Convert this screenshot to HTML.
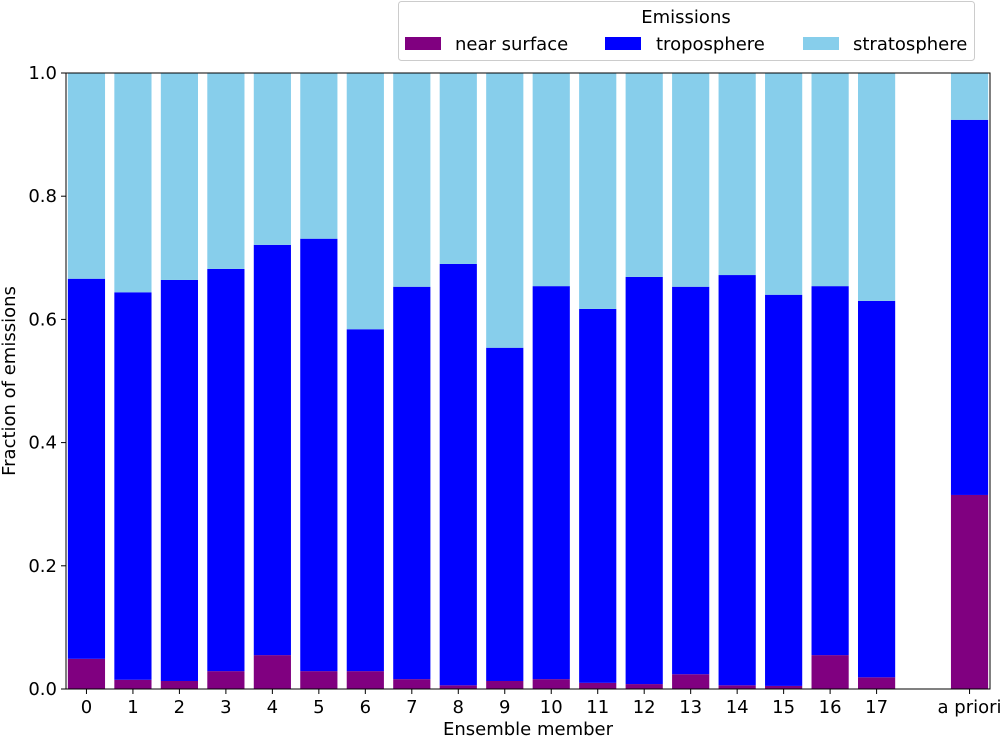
<!DOCTYPE html>
<html><head><meta charset="utf-8"><style>
body{margin:0;background:#fff;}
svg text{font-family:"DejaVu Sans","Liberation Sans",sans-serif;font-size:18px;fill:#000;}
</style></head><body>
<svg id="chart" width="1000" height="736" xmlns="http://www.w3.org/2000/svg">
<g id="bars"></g>
<g id="axes"></g>
<g>
<rect x="398.5" y="1.5" width="576" height="59" rx="3" fill="#fff" stroke="#ccc"/>
<text x="686" y="23" text-anchor="middle">Emissions</text>
<rect x="405" y="37" width="36" height="13" fill="#800080"/>
<text x="455" y="50">near surface</text>
<rect x="605" y="37" width="36" height="13" fill="#0000ff"/>
<text x="656" y="50">troposphere</text>
<rect x="803" y="37" width="36" height="13" fill="#87ceeb"/>
<text x="853" y="50">stratosphere</text>
</g>
</svg>
<script>
const categories=["0","1","2","3","4","5","6","7","8","9","10","11","12","13","14","15","16","17","a priori"];
const positions=[0,1,2,3,4,5,6,7,8,9,10,11,12,13,14,15,16,17,19];
const nearSurface=[0.049,0.015,0.013,0.029,0.055,0.029,0.029,0.016,0.006,0.013,0.016,0.010,0.008,0.024,0.006,0.005,0.055,0.019,0.315];
const troposphere=[0.617,0.629,0.651,0.653,0.666,0.702,0.555,0.637,0.684,0.541,0.638,0.607,0.661,0.629,0.666,0.635,0.599,0.611,0.609];
const stratosphere=[0.334,0.356,0.336,0.318,0.279,0.269,0.416,0.347,0.310,0.446,0.346,0.383,0.331,0.347,0.328,0.360,0.346,0.370,0.076];
const yTicks=[0,0.2,0.4,0.6,0.8,1.0];
const yTickLabels=["0.0","0.2","0.4","0.6","0.8","1.0"];
const NS="http://www.w3.org/2000/svg";
const L=66,R=990,T=73,B=689,xmin=-0.44,xmax=19.44;
const x=v=>L+(v-xmin)/(xmax-xmin)*(R-L);
const y=v=>B-v*(B-T);
const bw=0.8*(R-L)/(xmax-xmin);
function mk(tag,attrs,parent){const e=document.createElementNS(NS,tag);for(const k in attrs)e.setAttribute(k,attrs[k]);parent.appendChild(e);return e;}
const bars=document.getElementById('bars'),axes=document.getElementById('axes');
const series=[[nearSurface,"#800080","near-surface"],[troposphere,"#0000ff","troposphere"],[stratosphere,"#87ceeb","stratosphere"]];
categories.forEach((c,i)=>{
  let base=0;
  series.forEach(([arr,col,nm])=>{
    const v=arr[i];
    const r=mk('rect',{x:x(positions[i])-bw/2,y:y(base+v),width:bw,height:y(base)-y(base+v),fill:col},bars);
    
    
    base+=v;
  });
  const t=mk('line',{x1:x(positions[i]),x2:x(positions[i]),y1:B,y2:B+5,stroke:'#000'},axes);
  
  
  const tl=mk('text',{x:x(positions[i]),y:B+24,'text-anchor':'middle'},axes);
  tl.textContent=c;
  
  
});
yTicks.forEach((v,i)=>{
  const t=mk('line',{x1:L-5,x2:L,y1:y(v),y2:y(v),stroke:'#000'},axes);
  
  
  const tl=mk('text',{x:L-9,y:y(v)+6,'text-anchor':'end'},axes);
  tl.textContent=yTickLabels[i];
  
  
});
const fr=mk('rect',{x:L,y:T,width:R-L,height:B-T,fill:'none',stroke:'#000','stroke-width':1},axes);


const xt=mk('text',{x:(L+R)/2,y:735,'text-anchor':'middle'},axes);
xt.textContent='Ensemble member';


const yt=mk('text',{x:15,y:(T+B)/2,'text-anchor':'middle',transform:`rotate(-90 15 ${(T+B)/2})`},axes);
yt.textContent='Fraction of emissions';


</script>
</body></html>
